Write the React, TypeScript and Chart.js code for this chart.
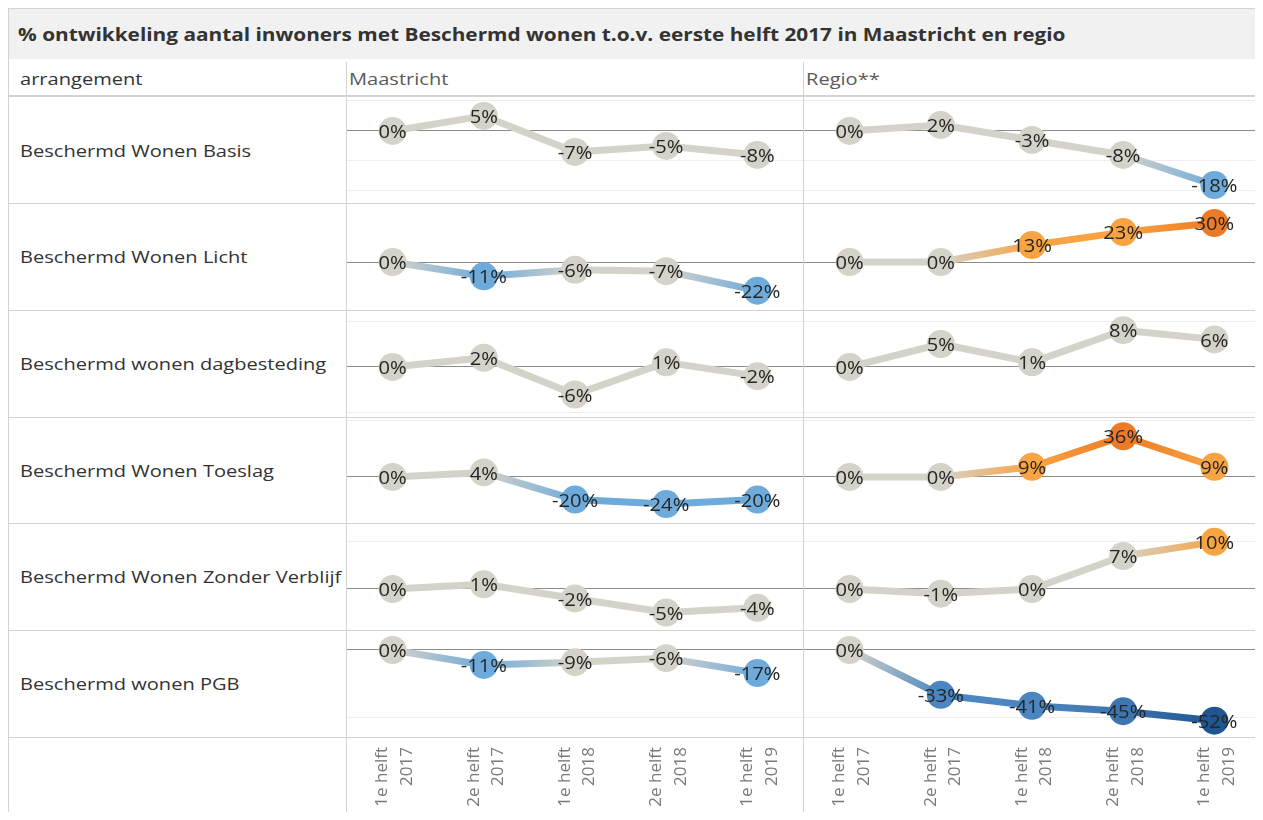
import React, { useEffect, useRef } from "react";
import { Chart, registerables } from "chart.js";

Chart.register(...registerables);

// ---------- data ----------
const TITLE =
  "% ontwikkeling aantal inwoners met Beschermd wonen t.o.v. eerste helft 2017 in Maastricht en regio";
const HEADER_FIRST = "arrangement";
const regionNames = ["Maastricht", "Regio**"];
const periodLabels: string[][] = [
  ["1e helft", "2017"],
  ["2e helft", "2017"],
  ["1e helft", "2018"],
  ["2e helft", "2018"],
  ["1e helft", "2019"],
];
const arrangements = [
  "Beschermd Wonen Basis",
  "Beschermd Wonen Licht",
  "Beschermd wonen dagbesteding",
  "Beschermd Wonen Toeslag",
  "Beschermd Wonen Zonder Verblijf",
  "Beschermd wonen PGB",
];

const maastrichtBasis = [0, 5, -7, -5, -8];
const maastrichtLicht = [0, -11, -6, -7, -22];
const maastrichtDagbesteding = [0, 2, -6, 1, -2];
const maastrichtToeslag = [0, 4, -20, -24, -20];
const maastrichtZonderVerblijf = [0, 1, -2, -5, -4];
const maastrichtPgb = [0, -11, -9, -6, -17];

const regioBasis = [0, 2, -3, -8, -18];
const regioLicht = [0, 0, 13, 23, 30];
const regioDagbesteding = [0, 5, 1, 8, 6];
const regioToeslag = [0, 0, 9, 36, 9];
const regioZonderVerblijf = [0, -1, 0, 7, 10];
const regioPgb = [0, -33, -41, -45, -52];

const maastrichtSeries = [
  maastrichtBasis,
  maastrichtLicht,
  maastrichtDagbesteding,
  maastrichtToeslag,
  maastrichtZonderVerblijf,
  maastrichtPgb,
];
const regioSeries = [
  regioBasis,
  regioLicht,
  regioDagbesteding,
  regioToeslag,
  regioZonderVerblijf,
  regioPgb,
];

// per-row shared y axis ranges (%)
const rowAxisMin = [-24, -36.9, -10.9, -40.7, -8.7, -64];
const rowAxisMax = [11.3, 45.4, 12.4, 53, 14, 14.7];
const rowGridStep = [10, 50, 10, 50, 10, 50];

// ---------- styling / layout ----------
const FONT = '"Open Sans", "Noto Sans", sans-serif';
const TEXT_STRETCH = 1.18;
const LABEL_STRETCH = 1.12;
const FRAME_W = 1253;
const FRAME_H = 804;
const TITLE_H = 51;
const HEADER_BOTTOM = 89;
const ROW_HEIGHTS = [106, 107, 107, 106, 107, 107];
const SEP1 = 338;
const SEP2 = 795;
const RIGHT = 1252;
const LINE = "#d3d3d3";

function valueColor(v: number): string {
  if (v >= 25) return "#ec7a26";
  if (v >= 9) return "#f9a443";
  if (v > -10) return "#d5d2c9";
  if (v > -30) return "#6eabda";
  if (v > -44) return "#4b86c0";
  if (v > -50) return "#3d75b1";
  return "#1f5590";
}

const valueLabelPlugin = {
  id: "valueLabels",
  afterDatasetsDraw(chart: any) {
    const ctx = chart.ctx;
    const meta = chart.getDatasetMeta(0);
    const data = chart.data.datasets[0].data as number[];
    ctx.save();
    ctx.font = `18px ${FONT}`;
    ctx.fillStyle = "#262626";
    ctx.textAlign = "center";
    ctx.textBaseline = "middle";
    meta.data.forEach((pt: any, i: number) => {
      ctx.save();
      ctx.translate(pt.x, pt.y + 2);
      ctx.scale(LABEL_STRETCH, 1);
      ctx.fillText(`${data[i]}%`, 0, 0);
      ctx.restore();
    });
    ctx.restore();
  },
};

function Cell(props: {
  values: number[];
  row: number;
  width: number;
  height: number;
  axisHeight: number;
}) {
  const ref = useRef<HTMLCanvasElement>(null);
  const { values, row, width, height, axisHeight } = props;
  useEffect(() => {
    const canvas = ref.current!;
    const c2d = canvas.getContext("2d")!;
    const colors = values.map(valueColor);
    const showAxis = axisHeight > 0;
    const chart = new Chart(canvas, {
      type: "line",
      data: {
        labels: periodLabels,
        datasets: [
          {
            data: values,
            borderWidth: 7,
            borderColor: "#d5d2c9",
            borderCapStyle: "round",
            pointRadius: 14,
            pointHoverRadius: 14,
            pointBorderWidth: 0,
            pointBackgroundColor: colors,
            pointBorderColor: colors,
            tension: 0,
            clip: false as any,
            segment: {
              borderColor: (sc: any) => {
                const g = c2d.createLinearGradient(sc.p0.x, sc.p0.y, sc.p1.x, sc.p1.y);
                g.addColorStop(0, colors[sc.p0DataIndex]);
                g.addColorStop(1, colors[sc.p1DataIndex]);
                return g;
              },
            },
          } as any,
        ],
      },
      options: {
        animation: false,
        responsive: false,
        events: [],
        layout: { padding: 0, autoPadding: false },
        plugins: { legend: { display: false }, tooltip: { enabled: false } },
        scales: {
          x: {
            display: showAxis,
            offset: true,
            grid: { display: false, drawTicks: false },
            border: { display: false },
            ticks: {
              autoSkip: false,
              minRotation: 90,
              maxRotation: 90,
              padding: 10,
              labelOffset: -10,
              color: "#7a7a7a",
              font: { family: FONT, size: 17, lineHeight: 1.45 },
            },
            afterFit: (s: any) => {
              if (showAxis) {
                s.height = axisHeight;
                s.paddingLeft = 0;
                s.paddingRight = 0;
              }
            },
          },
          y: {
            min: rowAxisMin[row],
            max: rowAxisMax[row],
            grid: {
              drawTicks: false,
              lineWidth: 1,
              color: (c: any) => (c.tick && c.tick.value === 0 ? "#8c8c8c" : "#eeeeee"),
            },
            border: { display: false },
            ticks: { display: false, stepSize: rowGridStep[row], includeBounds: false },
          },
        },
      },
      plugins: [valueLabelPlugin],
    } as any);
    return () => chart.destroy();
  }, [values, row, width, height, axisHeight]);
  return <canvas ref={ref} width={width} height={height} style={{ display: "block" }} />;
}

function Stretched(props: { text: string; scale: number; style?: React.CSSProperties }) {
  return (
    <span
      style={{
        display: "inline-block",
        whiteSpace: "nowrap",
        transform: `scaleX(${props.scale})`,
        transformOrigin: "left center",
        ...props.style,
      }}
    >
      {props.text}
    </span>
  );
}

export default function App() {
  const rowTops: number[] = [];
  let acc = HEADER_BOTTOM;
  ROW_HEIGHTS.forEach((h) => {
    rowTops.push(acc);
    acc += h;
  });
  const gridBottom = acc;
  const colLefts = [SEP1 + 1, SEP2 + 1];
  const colWidths = [SEP2 - SEP1 - 1, RIGHT - SEP2 - 1];
  const abs = (o: React.CSSProperties): React.CSSProperties => ({ position: "absolute", ...o });

  return (
    <div
      style={{
        position: "relative",
        width: FRAME_W,
        height: FRAME_H,
        overflow: "hidden",
        background: "#fff",
        fontFamily: FONT,
      }}
    >
      {/* title bar */}
      <div
        style={abs({
          left: 0,
          top: 0,
          width: RIGHT,
          height: TITLE_H,
          background: "#f1f1f1",
          display: "flex",
          alignItems: "center",
          paddingLeft: 10,
          boxSizing: "border-box",
        })}
      >
        <Stretched
          text={TITLE}
          scale={1.155}
          style={{ fontWeight: 700, fontSize: 18, color: "#333" }}
        />
      </div>

      {/* header row */}
      <div style={abs({ left: 12, top: TITLE_H, height: HEADER_BOTTOM - TITLE_H, display: "flex", alignItems: "center" })}>
        <Stretched text={HEADER_FIRST} scale={TEXT_STRETCH} style={{ fontSize: 17, color: "#333" }} />
      </div>
      {regionNames.map((r, i) => (
        <div
          key={r}
          style={abs({
            left: colLefts[i] + 2,
            top: TITLE_H,
            height: HEADER_BOTTOM - TITLE_H,
            display: "flex",
            alignItems: "center",
          })}
        >
          <Stretched text={r} scale={TEXT_STRETCH} style={{ fontSize: 17, color: "#5a5a5a" }} />
        </div>
      ))}

      {/* charts */}
      {arrangements.map((name, row) => {
        const isLast = row === arrangements.length - 1;
        const h = isLast ? FRAME_H - rowTops[row] : ROW_HEIGHTS[row];
        const axisH = isLast ? FRAME_H - rowTops[row] - ROW_HEIGHTS[row] : 0;
        return (
          <React.Fragment key={name}>
            <div
              style={abs({
                left: 12,
                top: rowTops[row],
                width: SEP1 - 12,
                height: ROW_HEIGHTS[row],
                display: "flex",
                alignItems: "center",
                overflow: "hidden",
              })}
            >
              <Stretched text={name} scale={TEXT_STRETCH} style={{ fontSize: 17, color: "#333" }} />
            </div>
            {[maastrichtSeries[row], regioSeries[row]].map((vals, c) => (
              <div key={c} style={abs({ left: colLefts[c], top: rowTops[row], width: colWidths[c], height: h })}>
                <Cell values={vals} row={row} width={colWidths[c]} height={h} axisHeight={axisH} />
              </div>
            ))}
          </React.Fragment>
        );
      })}

      {/* grid lines (table borders) */}
      <div style={abs({ left: 0, top: 0, width: 1, height: FRAME_H, background: LINE })} />
      <div style={abs({ left: RIGHT, top: 0, width: 1, height: FRAME_H, background: LINE })} />
      <div style={abs({ left: 0, top: 0, width: RIGHT, height: 1, background: LINE })} />
      <div style={abs({ left: SEP1, top: TITLE_H + 3, width: 1, height: FRAME_H - TITLE_H, background: LINE })} />
      <div style={abs({ left: SEP2, top: TITLE_H + 3, width: 1, height: FRAME_H - TITLE_H, background: LINE })} />
      <div style={abs({ left: 0, top: HEADER_BOTTOM - 2, width: RIGHT, height: 2, background: LINE })} />
      {rowTops.slice(1).map((t) => (
        <div key={t} style={abs({ left: 0, top: t, width: RIGHT, height: 1, background: LINE })} />
      ))}
      <div style={abs({ left: 0, top: gridBottom, width: RIGHT, height: 1, background: LINE })} />
    </div>
  );
}
